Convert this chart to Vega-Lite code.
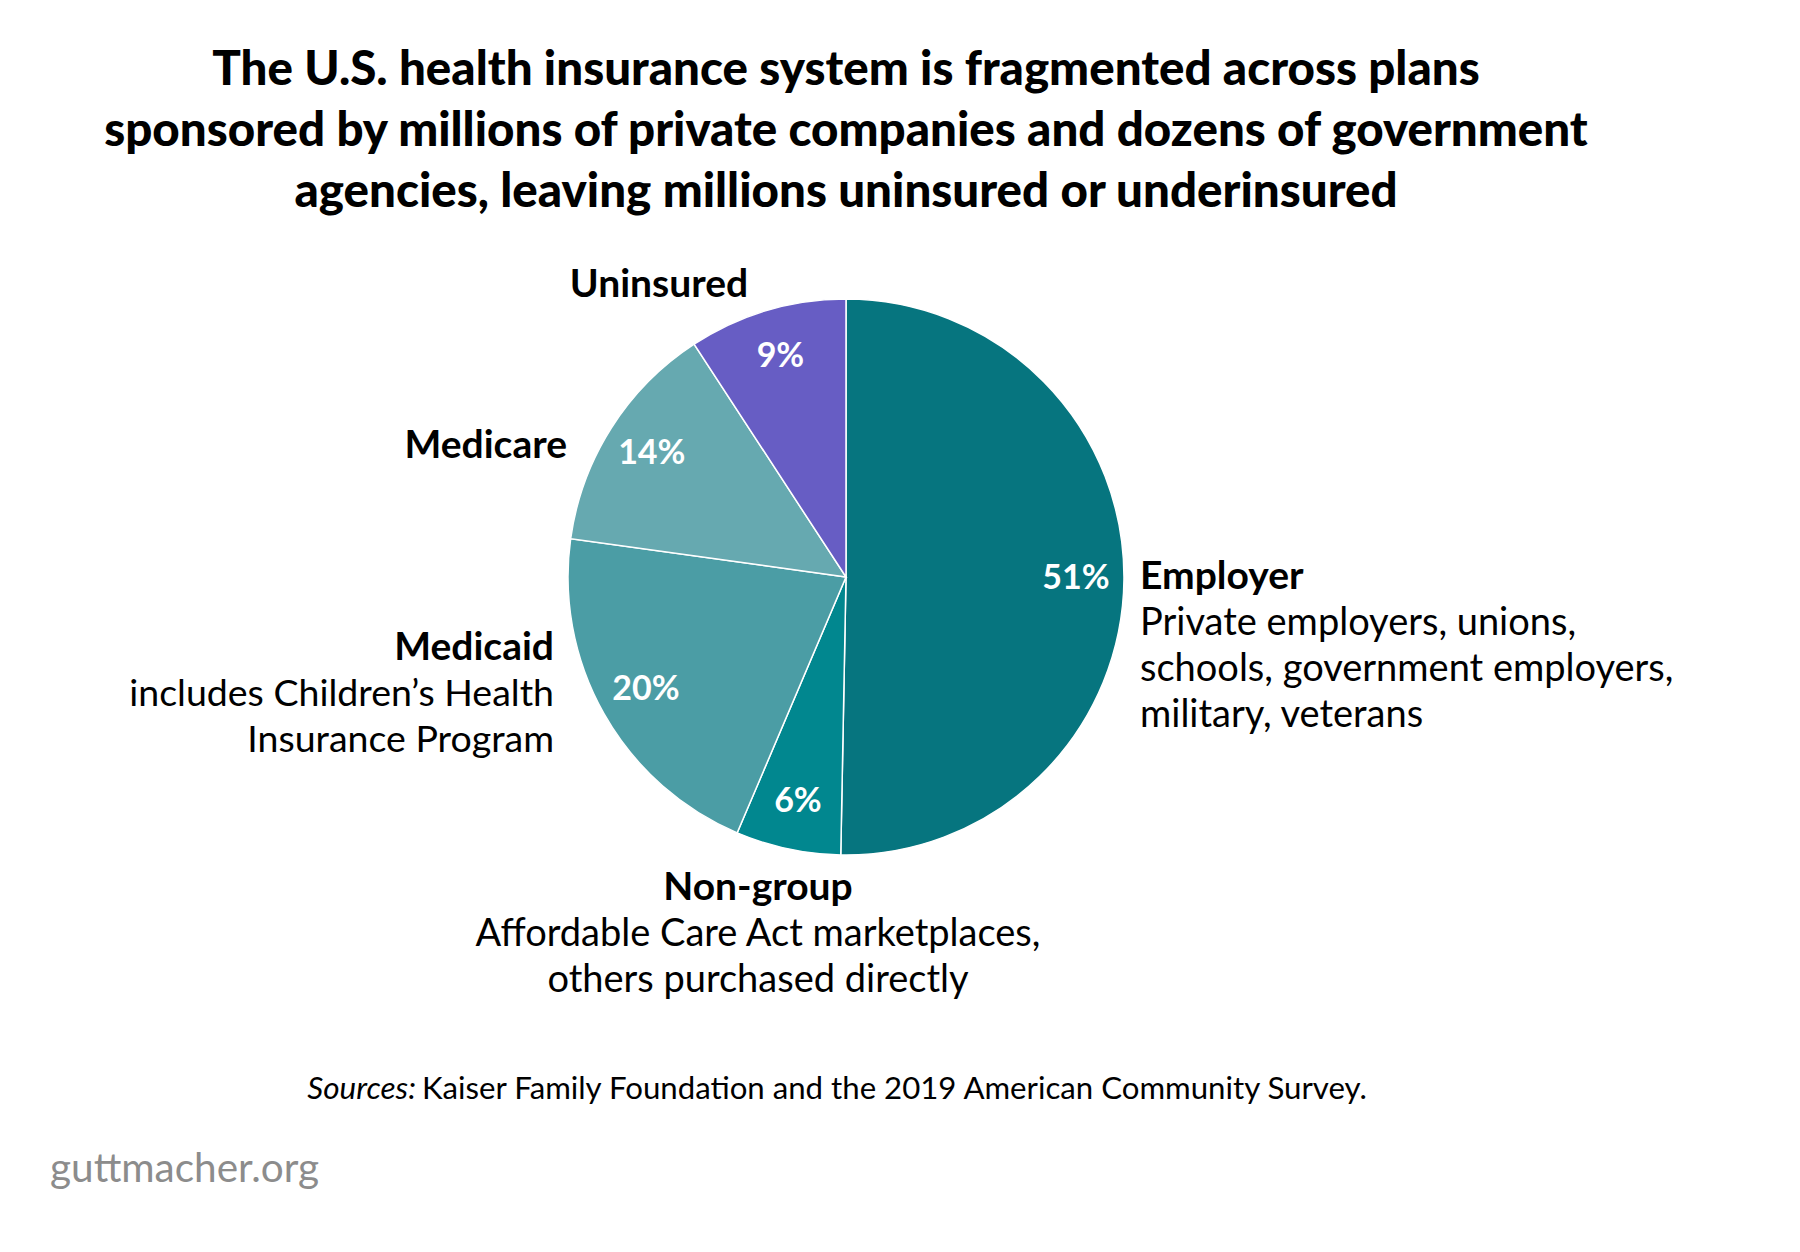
{
  "$schema": "https://vega.github.io/schema/vega-lite/v6.json",
  "autosize": {"type": "none"},
  "width": 1692,
  "height": 1154,
  "padding": {"left": 0, "top": 0, "right": 108, "bottom": 98},
  "background": "white",
  "config": {"view": {"stroke": null}, "text": {"font": "Lato"}},
  "title": {
    "text": ["The U.S. health insurance system is fragmented across plans", "sponsored by millions of private companies and dozens of government", "agencies, leaving millions uninsured or underinsured"],
    "anchor": "middle",
    "frame": "group",
    "orient": "top",
    "font": "Lato",
    "fontSize": 47.5,
    "fontWeight": 900,
    "lineHeight": 61,
    "color": "#000000",
    "offset": -216
  },
  "datasets": {
    "coverage": [
      {"o": 1, "category": "Employer", "share": 50.3, "pct": "51%", "desc": "Private employers, unions,\nschools, government employers,\nmilitary, veterans"},
      {"o": 2, "category": "Non-group", "share": 6.1, "pct": "6%", "desc": "Affordable Care Act marketplaces,\nothers purchased directly"},
      {"o": 3, "category": "Medicaid", "share": 20.8, "pct": "20%", "desc": "includes Children’s Health\nInsurance Program"},
      {"o": 4, "category": "Medicare", "share": 13.6, "pct": "14%", "desc": ""},
      {"o": 5, "category": "Uninsured", "share": 9.2, "pct": "9%", "desc": ""}
    ],
    "notes": [
      {"key": "sources_label", "note": "Sources:"},
      {"key": "sources_text", "note": "Kaiser Family Foundation and the 2019 American Community Survey."},
      {"key": "brand", "note": "guttmacher.org"}
    ]
  },
  "data": {"name": "coverage"},
  "layer": [
    {
      "mark": {"type": "arc", "outerRadius": 278, "stroke": "white", "strokeWidth": 1.5},
      "encoding": {
        "theta": {"field": "share", "type": "quantitative", "stack": true},
        "order": {"field": "o", "type": "quantitative"},
        "color": {
          "field": "category", "type": "nominal", "legend": null,
          "scale": {"domain": ["Employer", "Non-group", "Medicaid", "Medicare", "Uninsured"], "range": ["#06757F", "#01878F", "#4B9DA5", "#66A9B0", "#675DC4"]}
        }
      }
    },
    {
      "mark": {"type": "text", "radius": 230, "fontSize": 34, "fontWeight": "bold", "color": "white", "baseline": "middle", "align": "center"},
      "encoding": {
        "theta": {"field": "share", "type": "quantitative", "stack": true},
        "order": {"field": "o", "type": "quantitative"},
        "text": {"field": "pct", "type": "nominal"}
      }
    },
    {
      "transform": [{"filter": "datum.category === 'Employer'"}],
      "mark": {"type": "text", "align": "left", "baseline": "alphabetic", "dx": 294, "dy": 12, "fontSize": 39, "fontWeight": "bold", "color": "#000000"},
      "encoding": {"text": {"field": "category", "type": "nominal"}}
    },
    {
      "transform": [{"filter": "datum.category === 'Employer'"}],
      "mark": {"type": "text", "align": "left", "baseline": "alphabetic", "dx": 294, "dy": 58, "fontSize": 38, "lineBreak": "\n", "lineHeight": 46, "color": "#000000"},
      "encoding": {"text": {"field": "desc", "type": "nominal"}}
    },
    {
      "transform": [{"filter": "datum.category === 'Non-group'"}],
      "mark": {"type": "text", "align": "center", "baseline": "alphabetic", "dx": -88, "dy": 323, "fontSize": 39, "fontWeight": "bold", "color": "#000000"},
      "encoding": {"text": {"field": "category", "type": "nominal"}}
    },
    {
      "transform": [{"filter": "datum.category === 'Non-group'"}],
      "mark": {"type": "text", "align": "center", "baseline": "alphabetic", "dx": -88, "dy": 369, "fontSize": 38, "lineBreak": "\n", "lineHeight": 46, "color": "#000000"},
      "encoding": {"text": {"field": "desc", "type": "nominal"}}
    },
    {
      "transform": [{"filter": "datum.category === 'Medicaid'"}],
      "mark": {"type": "text", "align": "right", "baseline": "alphabetic", "dx": -292, "dy": 83, "fontSize": 39, "fontWeight": "bold", "color": "#000000"},
      "encoding": {"text": {"field": "category", "type": "nominal"}}
    },
    {
      "transform": [{"filter": "datum.category === 'Medicaid'"}],
      "mark": {"type": "text", "align": "right", "baseline": "alphabetic", "dx": -292, "dy": 129, "fontSize": 37.5, "lineBreak": "\n", "lineHeight": 46, "color": "#000000"},
      "encoding": {"text": {"field": "desc", "type": "nominal"}}
    },
    {
      "transform": [{"filter": "datum.category === 'Medicare'"}],
      "mark": {"type": "text", "align": "right", "baseline": "alphabetic", "dx": -279, "dy": -119, "fontSize": 39, "fontWeight": "bold", "color": "#000000"},
      "encoding": {"text": {"field": "category", "type": "nominal"}}
    },
    {
      "transform": [{"filter": "datum.category === 'Uninsured'"}],
      "mark": {"type": "text", "align": "center", "baseline": "alphabetic", "dx": -187, "dy": -280, "fontSize": 39, "fontWeight": "bold", "color": "#000000"},
      "encoding": {"text": {"field": "category", "type": "nominal"}}
    },
    {
      "data": {"name": "notes"},
      "transform": [{"filter": "datum.key === 'sources_label'"}],
      "mark": {"type": "text", "align": "right", "baseline": "alphabetic", "dx": -430, "dy": 522, "fontSize": 31.5, "fontStyle": "italic", "color": "#000000"},
      "encoding": {"text": {"field": "note", "type": "nominal"}}
    },
    {
      "data": {"name": "notes"},
      "transform": [{"filter": "datum.key === 'sources_text'"}],
      "mark": {"type": "text", "align": "left", "baseline": "alphabetic", "dx": -424, "dy": 522, "fontSize": 31.2, "color": "#000000"},
      "encoding": {"text": {"field": "note", "type": "nominal"}}
    },
    {
      "data": {"name": "notes"},
      "transform": [{"filter": "datum.key === 'brand'"}],
      "mark": {"type": "text", "align": "left", "baseline": "alphabetic", "dx": -796, "dy": 605, "fontSize": 40.5, "color": "#8C8C8C"},
      "encoding": {"text": {"field": "note", "type": "nominal"}}
    }
  ]
}
